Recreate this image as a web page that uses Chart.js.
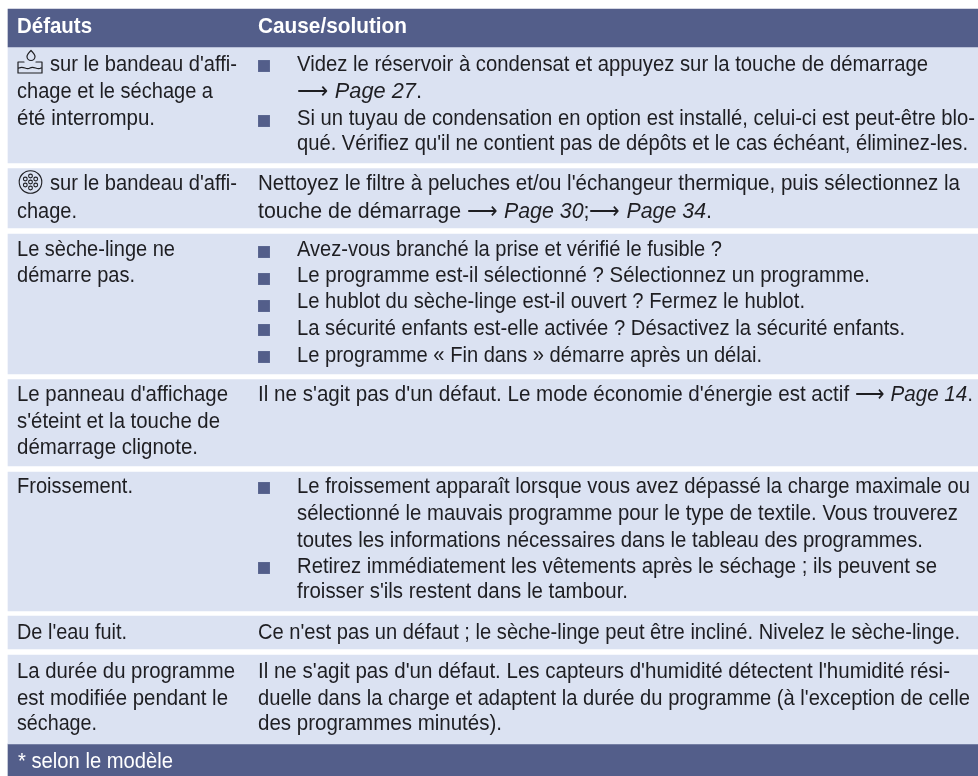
<!DOCTYPE html>
<html lang="fr">
<head>
<meta charset="utf-8">
<title>Défauts</title>
<script src="https://cdn.jsdelivr.net/npm/chart.js@4"></script>
<style>html,body{margin:0;padding:0;background:#fff}canvas{display:block}</style>
</head>
<body>
<canvas id="c" width="978" height="776"></canvas>
<script>
// Bands (table rows) on a pixel-like vertical scale
const bandNames = ['header','r1','r2','r3','r4','r5','r6','r7','footer'];
const bandCentre = [493,493,493,493,493,493,493,493,493];
const bandTop    = [9, 47, 168.5, 234, 379.5, 472, 616, 655, 744];
const bandBottom = [47, 163, 228, 374, 466, 611, 649, 744, 776];
const bandKinds  = ['dark','light','light','light','light','light','light','light','dark'];

// Square bullets
const bulletX = [264,264,264,264,264,264,264,264,264];
const bulletY = [66,121,252,279,306,330,357,488,568];

// Text lines; '|' toggles italics
const textLines = [
 'Défauts','Cause/solution',
 "sur le bandeau d'affi-",'chage et le séchage a','été interrompu.',
 'Videz le réservoir à condensat et appuyez sur la touche de démarrage',
 '⟶ |Page 27|.',
 'Si un tuyau de condensation en option est installé, celui-ci est peut-être blo-',
 "qué. Vérifiez qu'il ne contient pas de dépôts et le cas échéant, éliminez-les.",
 "sur le bandeau d'affi-",'chage.',
 "Nettoyez le filtre à peluches et/ou l'échangeur thermique, puis sélectionnez la",
 'touche de démarrage ⟶ |Page 30|;⟶ |Page 34|.',
 'Le sèche-linge ne','démarre pas.',
 'Avez-vous branché la prise et vérifié le fusible ?',
 'Le programme est-il sélectionné ? Sélectionnez un programme.',
 'Le hublot du sèche-linge est-il ouvert ? Fermez le hublot.',
 'La sécurité enfants est-elle activée ? Désactivez la sécurité enfants.',
 'Le programme « Fin dans » démarre après un délai.',
 "Le panneau d'affichage","s'éteint et la touche de",'démarrage clignote.',
 "Il ne s'agit pas d'un défaut. Le mode économie d'énergie est actif ⟶ |Page 14|.",
 'Froissement.',
 'Le froissement apparaît lorsque vous avez dépassé la charge maximale ou',
 'sélectionné le mauvais programme pour le type de textile. Vous trouverez',
 'toutes les informations nécessaires dans le tableau des programmes.',
 'Retirez immédiatement les vêtements après le séchage ; ils peuvent se',
 "froisser s'ils restent dans le tambour.",
 "De l'eau fuit.",
 "Ce n'est pas un défaut ; le sèche-linge peut être incliné. Nivelez le sèche-linge.",
 'La durée du programme','est modifiée pendant le','séchage.',
 "Il ne s'agit pas d'un défaut. Les capteurs d'humidité détectent l'humidité rési-",
 "duelle dans la charge et adaptent la durée du programme (à l'exception de celle",
 'des programmes minutés).',
 '* selon le modèle'
];
const lineStart = [17,258, 50,17,17, 297,297,297,297, 50,17, 258,258, 17,17, 297,297,297,297,297, 17,17,17, 258, 17, 297,297,297,297,297, 17, 258, 17,17,17, 258,258,258, 18];
const lineEnd   = [92,407, 237,213,155, 928,422,975,968, 237,77, 960,712, 175,135, 722,870,805,905,762, 228,220,198, 973, 133, 970,958,923,937,628, 127, 960, 235,228,97, 950,970,502, 173];
const lineBase  = [33,33, 71,98,125, 71,98,125,150, 190,218, 190,218, 256,282, 256,282,308,335,362, 401,428,454, 401, 493, 493,520,547,573,598, 639, 639, 678,705,730, 678,705,730, 768];
const lineKind  = ['head','head','n','n','n','n','n','n','n','n','n','n','n','n','n','n','n','n','n','n','n','n','n','n','n','n','n','n','n','n','n','n','n','n','n','n','n','n','foot'];

const DARK='#535e8a', LIGHT='#dbe2f2', INK='#1e1e22';
const FAMILY='"Liberation Sans Narrow","Liberation Sans",sans-serif';

function drawRun(ctx,text,x,y,kind,dry){
  const parts=text.split('|'); let cx=x;
  parts.forEach((p,i)=>{
    const w=kind==='head'?'bold ':'';
    ctx.font=(i%2?'italic ':'')+w+'22px '+FAMILY;
    if(!dry) ctx.fillText(p,cx,y);
    cx+=ctx.measureText(p).width;
  });
  return cx-x;
}

const tablePlugin={
  id:'tableText',
  afterDatasetsDraw(chart){
    const {ctx,scales}=chart, sx=scales.x, sy=scales.y;
    ctx.save();
    ctx.textBaseline='alphabetic'; ctx.textAlign='left';
    textLines.forEach((t,i)=>{
      const x=sx.getPixelForValue(lineStart[i]), xe=sx.getPixelForValue(lineEnd[i]), y=sy.getPixelForValue(lineBase[i]);
      const natural=drawRun(ctx,t,0,0,lineKind[i],true);
      ctx.save();
      ctx.translate(x,y); ctx.scale((xe-x)/natural,1);
      ctx.fillStyle=lineKind[i]==='n'?INK:'#ffffff';
      drawRun(ctx,t,0,0,lineKind[i],false);
      ctx.restore();
    });
    // condensate icon
    ctx.strokeStyle=INK; ctx.lineWidth=1.2; ctx.lineCap='round';
    const px=v=>sx.getPixelForValue(v), py=v=>sy.getPixelForValue(v);
    ctx.beginPath();
    ctx.moveTo(px(18),py(62)); ctx.lineTo(px(18),py(73)); ctx.lineTo(px(42),py(73)); ctx.lineTo(px(42),py(62));
    ctx.moveTo(px(18),py(62)); ctx.lineTo(px(24),py(62));
    ctx.moveTo(px(36),py(62)); ctx.lineTo(px(42),py(62));
    ctx.moveTo(px(19),py(68));
    ctx.bezierCurveTo(px(24),py(65.5),px(26),py(70.5),px(30),py(68));
    ctx.bezierCurveTo(px(34),py(65.5),px(37),py(70.5),px(41),py(68));
    ctx.stroke();
    ctx.beginPath();
    ctx.moveTo(px(31),py(50.5));
    ctx.bezierCurveTo(px(34),py(53.5),px(35),py(55),px(35),py(56.5));
    ctx.arc(px(31),py(56.5),4,0,Math.PI);
    ctx.bezierCurveTo(px(27),py(55),px(28),py(53.5),px(31),py(50.5));
    ctx.stroke();
    // lint filter icon
    ctx.lineWidth=1.1;
    ctx.beginPath(); ctx.arc(px(30.5),py(182),11.3,0,Math.PI*2); ctx.stroke();
    const holes=[[30.5,182],[30.5,176],[30.5,188],[25.3,179],[35.7,179],[25.3,185],[35.7,185]];
    holes.forEach(h=>{ctx.beginPath();ctx.arc(px(h[0]),py(h[1]),1.9,0,Math.PI*2);ctx.stroke();});
    ctx.restore();
  }
};

new Chart(document.getElementById('c').getContext('2d'),{
  type:'scatter',
  data:{
    datasets:[
      ...bandNames.map((n,i)=>({
        type:'bar',
        label:n,
        data:[{x:bandCentre[i],y:[bandTop[i],bandBottom[i]]}],
        backgroundColor:bandKinds[i]==='dark'?DARK:LIGHT,
        borderWidth:0,borderSkipped:false,
        barThickness:970,grouped:false,
        order:2
      })),
      {type:'scatter',label:'puces',
       data:bulletX.map((x,i)=>({x,y:bulletY[i]})),
       pointStyle:'rect',pointRadius:8.4,pointHoverRadius:8.4,
       backgroundColor:DARK,borderWidth:0,
       order:1}
    ]
  },
  options:{
    responsive:false,animation:false,
    layout:{autoPadding:false,padding:0},
    plugins:{legend:{display:false},tooltip:{enabled:false},title:{display:false}},
    events:[],
    scales:{
      x:{type:'linear',offset:false,min:0,max:978,display:false},
      y:{type:'linear',reverse:true,min:0,max:776,display:false}
    }
  },
  plugins:[tablePlugin]
});
</script>
</body>
</html>
